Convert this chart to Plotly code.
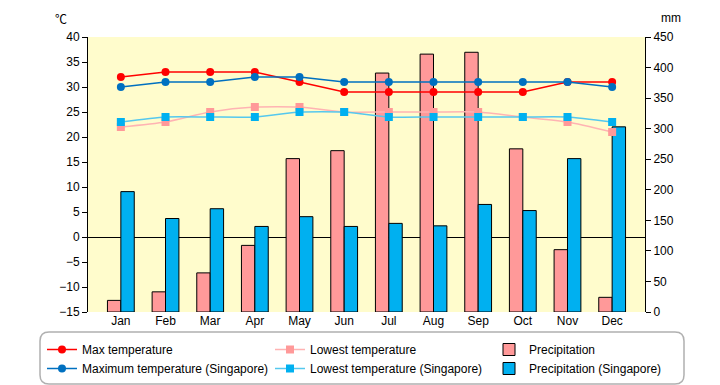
import plotly.graph_objects as go

months = ["Jan", "Feb", "Mar", "Apr", "May", "Jun", "Jul", "Aug", "Sep", "Oct", "Nov", "Dec"]
max_temp = [32, 33, 33, 33, 31, 29, 29, 29, 29, 29, 31, 31]
low_temp = [22, 23, 25, 26, 26, 25, 25, 25, 25, 24, 23, 21]
precip = [19, 33, 64, 109, 251, 264, 391, 422, 425, 267, 102, 24]
max_temp_sg = [30, 31, 31, 32, 32, 31, 31, 31, 31, 31, 31, 30]
low_temp_sg = [23, 24, 24, 24, 25, 25, 24, 24, 24, 24, 24, 23]
precip_sg = [197, 153, 169, 140, 156, 140, 145, 141, 176, 166, 251, 303]

FONT = "Liberation Sans"
fig = go.Figure()

# bars on primary (right-side) axis so lines are drawn on top
fig.add_trace(go.Bar(x=months, y=precip, name="Precipitation", yaxis="y", legend="legend3",
                     legendgroup="p1",
                     marker=dict(color="#ff9999", line=dict(color="black", width=1))))
fig.add_trace(go.Bar(x=months, y=precip_sg, name="Precipitation (Singapore)", yaxis="y", legend="legend3",
                     legendgroup="p2",
                     marker=dict(color="#00b0f0", line=dict(color="black", width=1))))

fig.add_trace(go.Scatter(x=months, y=low_temp, name="Lowest temperature", yaxis="y2", legend="legend2",
                         legendgroup="l1",
                         mode="lines+markers", line=dict(color="#ffb3b3", width=1.5, shape="spline", smoothing=0.6),
                         marker=dict(symbol="square", size=8, color="#ff9999")))
fig.add_trace(go.Scatter(x=months, y=low_temp_sg, name="Lowest temperature (Singapore)", yaxis="y2", legend="legend2",
                         legendgroup="l2",
                         mode="lines+markers", line=dict(color="#55c8ee", width=1.5, shape="spline", smoothing=0.6),
                         marker=dict(symbol="square", size=8, color="#00b0f0")))
fig.add_trace(go.Scatter(x=months, y=max_temp, name="Max temperature", yaxis="y2", legend="legend",
                         legendgroup="m1",
                         mode="lines+markers", line=dict(color="#ff0000", width=1.5),
                         marker=dict(symbol="circle", size=8, color="#ff0000")))
fig.add_trace(go.Scatter(x=months, y=max_temp_sg, name="Maximum temperature (Singapore)", yaxis="y2", legend="legend",
                         legendgroup="m2",
                         mode="lines+markers", line=dict(color="#0070c0", width=1.5),
                         marker=dict(symbol="circle", size=8, color="#0070c0")))

pw, ph = 557, 275
L, B = 88, 312


def px_x(v):
    return (v - L) / pw


def px_y(v):
    return (B - v) / ph


# rounded legend frame in paper coords
x0, x1 = px_x(40), px_x(684)
y0, y1 = px_y(384), px_y(332)
rx, ry = 9 / pw, 9 / ph
path = (f"M {x0+rx},{y1} L {x1-rx},{y1} Q {x1},{y1} {x1},{y1-ry} "
        f"L {x1},{y0+ry} Q {x1},{y0} {x1-rx},{y0} L {x0+rx},{y0} "
        f"Q {x0},{y0} {x0},{y0+ry} L {x0},{y1-ry} Q {x0},{y1} {x0+rx},{y1} Z")

leg_common = dict(orientation="v", xanchor="left", yanchor="top", y=px_y(335),
                  bgcolor="rgba(0,0,0,0)", font=dict(size=12, family=FONT),
                  traceorder="normal", tracegroupgap=2)

fig.update_layout(
    width=720, height=385,
    margin=dict(l=88, r=75, t=37, b=73, autoexpand=False),
    paper_bgcolor="white", plot_bgcolor="#fffccc",
    font=dict(family=FONT, size=12, color="black"),
    barmode="group", bargap=0.4, bargroupgap=0,
    showlegend=True,
    legend=dict(x=px_x(42), **leg_common),
    legend2=dict(x=px_x(270), **leg_common),
    legend3=dict(x=px_x(489), **leg_common),
    xaxis=dict(showgrid=False, showline=False, ticks="", zeroline=False,
               tickfont=dict(size=12)),
    yaxis=dict(side="right", range=[0, 450], dtick=50, showgrid=False, zeroline=False,
               showline=True, linecolor="black", linewidth=1, ticks="outside",
               ticklen=5, tickcolor="black", tickfont=dict(size=12)),
    yaxis2=dict(side="left", overlaying="y", range=[-15, 40], dtick=5, showgrid=False,
                zeroline=True, zerolinecolor="black", zerolinewidth=1,
                showline=True, linecolor="black", linewidth=1, ticks="outside",
                ticklen=5, tickcolor="black", tickfont=dict(size=12)),
    shapes=[dict(type="path", xref="paper", yref="paper", path=path,
                 line=dict(color="#b0b0b0", width=1.5), fillcolor="rgba(0,0,0,0)")],
    annotations=[
        dict(text="℃", xref="paper", yref="paper", x=px_x(61), y=px_y(18),
             xanchor="center", yanchor="middle",
             showarrow=False, font=dict(size=12, family="Noto Sans CJK JP")),
        dict(text="mm", xref="paper", yref="paper", x=px_x(671), y=px_y(18),
             xanchor="center", yanchor="middle",
             showarrow=False, font=dict(size=12)),
    ],
)

fig.write_html("out.html", config={"displayModeBar": False},
               post_script="document.body.style.margin='0';document.body.style.overflow='hidden';")
